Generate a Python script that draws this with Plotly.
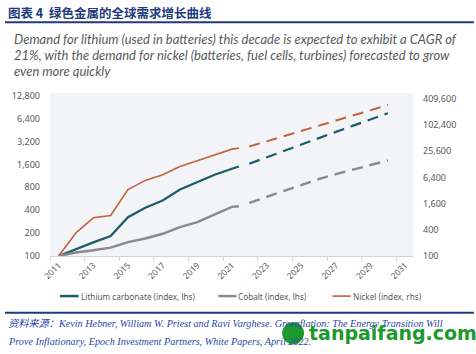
import plotly.graph_objects as go
import math

# ---------------- data ----------------
years_actual = [2011, 2012, 2013, 2014, 2015, 2016, 2017, 2018, 2019, 2020, 2021, 2021.4]
lithium_actual = [100, 124, 151, 183, 324, 430, 536, 746, 930, 1170, 1404, 1505]
cobalt_actual = [100, 111, 119, 129, 152, 170, 196, 240, 279, 351, 443, 451]
nickel_actual = [100, 343, 757, 854, 3365, 5490, 7420, 11490, 15520, 21290, 28750, 30300]

years_fc = [2022, 2023, 2024, 2025, 2026, 2027, 2028, 2029, 2030]
lithium_fc = [1634, 1990, 2420, 2940, 3550, 4280, 5170, 6250, 7530]
cobalt_fc = [500, 599, 718, 860, 1024, 1191, 1376, 1586, 1805]
nickel_fc = [32980, 43370, 57060, 75430, 100800, 132600, 173500, 228200, 297000]

left_ticks = [100, 200, 400, 800, 1600, 3200, 6400, 12800]
right_ticks = [100, 400, 1600, 6400, 25600, 102400, 409600]
x_ticks = [2011, 2013, 2015, 2017, 2019, 2021, 2023, 2025, 2027, 2029, 2031]

series_names = ["Lithium carbonate (index, lhs)", "Cobalt (index, lhs)", "Nickel (index, rhs)"]
title_text = "图表 4  绿色金属的全球需求增长曲线"
subtitle_lines = [
    "Demand for lithium (used in batteries) this decade is expected to exhibit a CAGR of",
    "21%, with the demand for nickel (batteries, fuel cells, turbines) forecasted to grow",
    "even more quickly",
]
source_lines = [
    "资料来源：Kevin Hebner, William W. Priest and Ravi Varghese. Greenflation: The Energy Transition Will",
    "Prove Inflationary, Epoch Investment Partners, White Papers, April 2022.",
]

# ---------------- style ----------------
TEAL = "#1b5e68"
GRAY = "#8a8a8a"
ORANGE = "#c0633a"
NAVY = "#1f3a7d"
W, H = 476, 354
PL, PR, PT, PB = 47.3, 412.7, 93.0, 256.5  # plot area in px

def px_x(x):
    return (x - PL) / (PR - PL)

def px_y(y):
    return (PB - y) / (PB - PT)

fig = go.Figure()
dash = "11px,7px"
fig.add_trace(go.Scatter(x=years_actual, y=lithium_actual, mode="lines",
                         line=dict(color=TEAL, width=2.2), showlegend=False))
fig.add_trace(go.Scatter(x=years_actual, y=cobalt_actual, mode="lines",
                         line=dict(color=GRAY, width=2.4), showlegend=False))
fig.add_trace(go.Scatter(x=years_actual, y=nickel_actual, mode="lines", yaxis="y2",
                         line=dict(color=ORANGE, width=1.6), showlegend=False))
fig.add_trace(go.Scatter(x=years_fc, y=lithium_fc, mode="lines",
                         line=dict(color=TEAL, width=2.2, dash=dash), showlegend=False))
fig.add_trace(go.Scatter(x=years_fc, y=cobalt_fc, mode="lines",
                         line=dict(color=GRAY, width=2.4, dash=dash), showlegend=False))
fig.add_trace(go.Scatter(x=years_fc, y=nickel_fc, mode="lines", yaxis="y2",
                         line=dict(color=ORANGE, width=2.0, dash=dash), showlegend=False))

tickfont = dict(family="Noto Sans", size=9, color="#595959")

left_top = math.log10(12800) + (95.7 - PT) / 23.0 * math.log10(2)
right_top = math.log10(409600) + (99.0 - PT) / 13.13 * math.log10(2)

fig.update_layout(
    width=W, height=H,
    margin=dict(l=PL, r=W - PR, t=PT, b=H - PB, pad=0),
    paper_bgcolor="white",
    plot_bgcolor="#f3f4f7",
    xaxis=dict(range=[2010.5, 2031.45], tickvals=x_ticks, ticktext=[str(v) for v in x_ticks],
               tickangle=-45, ticks="", showgrid=False, zeroline=False,
               showline=True, linecolor="#d4d4d4", linewidth=1,
               tickfont=dict(family="Noto Sans", size=8.5, color="#595959"),
               minor=dict(tickmode="array", tickvals=[2010.5 + 2 * k for k in range(11)],
                          ticks="outside", ticklen=4, tickcolor="#d4d4d4", showgrid=False)),
    yaxis=dict(type="log", range=[2, left_top], tickvals=left_ticks,
               ticktext=[f"{v:,}" for v in left_ticks], showgrid=False, zeroline=False,
               showline=False, ticks="", tickfont=tickfont, ticklabelstandoff=9),
    yaxis2=dict(type="log", range=[2, right_top], tickvals=right_ticks,
                ticktext=[f"{v:,}" for v in right_ticks], overlaying="y", side="right",
                showgrid=False, zeroline=False, showline=False, ticks="",
                tickfont=tickfont, ticklabelstandoff=9),
)

annotations = []
shapes = []

# Title
annotations.append(dict(xref="paper", yref="paper", x=px_x(3), y=px_y(12), xanchor="left",
                        yanchor="middle", showarrow=False, text="<b>" + title_text + "</b>",
                        font=dict(family="Noto Sans CJK SC", size=12.5, color=NAVY)))
shapes.append(dict(type="line", xref="paper", yref="paper", x0=px_x(2), x1=px_x(474),
                   y0=px_y(22), y1=px_y(22), line=dict(color=NAVY, width=2)))
# Subtitle
for line, yy in zip(subtitle_lines, [39, 55, 71]):
    annotations.append(dict(xref="paper", yref="paper", x=px_x(9), y=px_y(yy), xanchor="left",
                            yanchor="middle", showarrow=False, text="<i>" + line + "</i>",
                            font=dict(family="Lato", size=13, color="#5a5a5a")))

# Legend (custom)
legend_items = [(TEAL, 57.3, 76, series_names[0]), (GRAY, 216.7, 235, series_names[1]),
                (ORANGE, 331.7, 350, series_names[2])]
for color, x0, x1, name in legend_items:
    shapes.append(dict(type="line", xref="paper", yref="paper", x0=px_x(x0), x1=px_x(x1),
                       y0=px_y(296.7), y1=px_y(296.7),
                       line=dict(color=color, width=2.5 if color != ORANGE else 1.6)))
    annotations.append(dict(xref="paper", yref="paper", x=px_x(x1), y=px_y(296.7), xanchor="left",
                            yanchor="middle", showarrow=False, text=name,
                            font=dict(family="Noto Sans", size=8.2, color="#595959")))

# Footer
shapes.append(dict(type="line", xref="paper", yref="paper", x0=px_x(2), x1=px_x(474),
                   y0=px_y(313.3), y1=px_y(313.3), line=dict(color=NAVY, width=2)))
for line, yy in zip(source_lines, [324.5, 342]):
    annotations.append(dict(xref="paper", yref="paper", x=px_x(3), y=px_y(yy), xanchor="left",
                            yanchor="middle", showarrow=False, text="<i>" + line + "</i>",
                            font=dict(family="Liberation Serif, Noto Sans CJK SC", size=10.2, color="#2a47a6")))
# Watermark
annotations.append(dict(xref="paper", yref="paper", x=px_x(306), y=px_y(334), xanchor="left",
                        yanchor="middle", showarrow=False, text="<b>tanpaifang.com</b>",
                        font=dict(family="DejaVu Sans", size=19, color="#1c9a2c")))
shapes.append(dict(type="circle", xref="paper", yref="paper", x0=px_x(281), x1=px_x(303),
                   y0=px_y(323), y1=px_y(345), fillcolor="#1c9a2c", line=dict(width=0)))

fig.update_layout(annotations=annotations, shapes=shapes)
fig.write_html("out.html")
